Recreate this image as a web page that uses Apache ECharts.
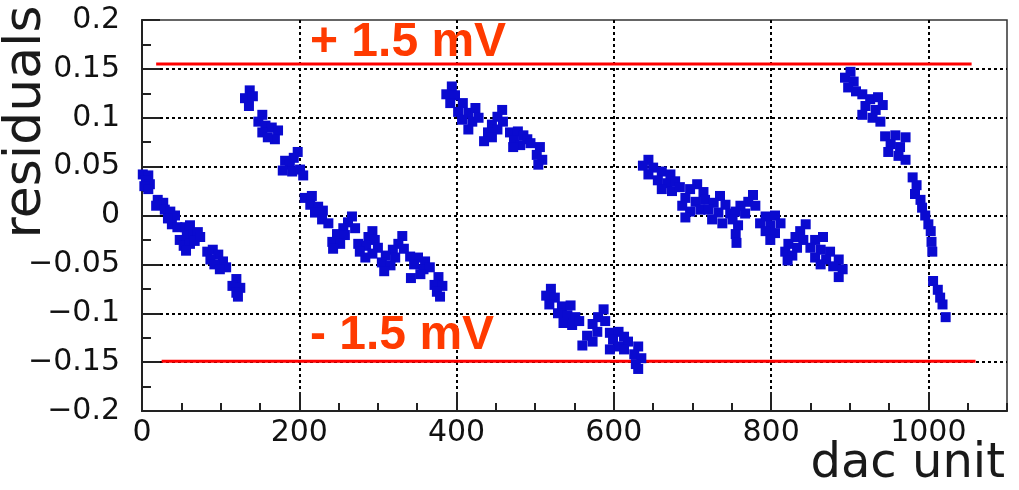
<!DOCTYPE html>
<html><head><meta charset="utf-8">
<script src="https://cdn.jsdelivr.net/npm/echarts@6/dist/echarts.min.js"></script>
<style>html,body{margin:0;padding:0;background:#fff}#c{width:1019px;height:490px}</style>
</head><body><div id="c"></div>
<script>
// tick labels
const xTickValues = [0, 200, 400, 600, 800, 1000];
const xTickLabels = ['0', '200', '400', '600', '800', '1000'];
const yTickValues = [-0.2, -0.15, -0.1, -0.05, 0, 0.05, 0.1, 0.15, 0.2];
const yTickLabels = ['\u22120.2', '\u22120.15', '\u22120.1', '\u22120.05', '0', '0.05', '0.1', '0.15', '0.2'];
const xAxisTitle = 'dac unit';
const yAxisTitle = 'residuals';

// residual points, [dac unit, residual]
const seg1 = [[1,0.042],[8,0.041],[5,0.036],[10,0.032],[3,0.030],[8,0.027],[20,0.016],[27,0.013],[18,0.010],[29,0.006],[36,0.004],[42,0.000],[33,-0.003],[38,-0.009],[45,-0.012],[55,-0.012],[61,-0.010],[48,-0.025],[57,-0.022],[65,-0.019],[71,-0.017],[53,-0.031],[61,-0.029],[67,-0.026],[74,-0.022],[56,-0.036],[83,-0.037],[90,-0.035],[97,-0.040],[87,-0.045],[103,-0.047],[92,-0.050],[107,-0.053],[99,-0.055],[120,-0.065],[115,-0.072],[125,-0.074],[120,-0.079],[122,-0.083]];
const seg2 = [[137,0.128],[131,0.120],[141,0.122],[136,0.112],[153,0.103],[148,0.096],[157,0.092],[165,0.090],[173,0.087],[153,0.085],[169,0.078],[160,0.080],[198,0.065],[193,0.059],[182,0.056],[188,0.052],[179,0.046],[191,0.045],[201,0.047],[205,0.041],[207,0.018],[216,0.020],[214,0.011],[224,0.009],[230,0.005],[220,0.003],[229,-0.004],[237,-0.008],[267,-0.001],[262,-0.007],[256,-0.013],[271,-0.013],[248,-0.019],[258,-0.020],[242,-0.027],[252,-0.029],[243,-0.034],[293,-0.016],[288,-0.022],[296,-0.025],[275,-0.029],[285,-0.031],[300,-0.033],[277,-0.037],[293,-0.039],[284,-0.043],[331,-0.021],[326,-0.029],[319,-0.035],[333,-0.034],[310,-0.041],[322,-0.043],[305,-0.048],[316,-0.051],[308,-0.057],[341,-0.042],[351,-0.043],[360,-0.047],[346,-0.050],[358,-0.055],[366,-0.053],[354,-0.060],[342,-0.064],[377,-0.063],[372,-0.071],[382,-0.072],[375,-0.078],[379,-0.083]];
const seg3 = [[394,0.132],[387,0.124],[398,0.123],[392,0.115],[408,0.115],[402,0.106],[415,0.105],[424,0.110],[407,0.098],[420,0.096],[428,0.100],[415,0.088],[458,0.108],[452,0.101],[459,0.096],[445,0.093],[452,0.088],[440,0.085],[445,0.080],[435,0.076],[468,0.085],[478,0.086],[485,0.082],[473,0.077],[490,0.078],[481,0.072],[494,0.074],[472,0.070],[506,0.070],[502,0.062],[509,0.057],[504,0.052]];
const seg4 = [[520,-0.075],[514,-0.082],[525,-0.084],[518,-0.091],[534,-0.093],[545,-0.092],[529,-0.100],[541,-0.102],[551,-0.104],[536,-0.110],[547,-0.112],[556,-0.108],[587,-0.096],[580,-0.104],[589,-0.108],[573,-0.111],[579,-0.119],[566,-0.123],[573,-0.129],[560,-0.133],[595,-0.120],[606,-0.119],[613,-0.124],[599,-0.127],[618,-0.129],[606,-0.134],[595,-0.137],[613,-0.137],[631,-0.134],[626,-0.142],[635,-0.146],[628,-0.152],[631,-0.157]];
const seg5 = [[644,0.057],[637,0.051],[650,0.049],[644,0.042],[661,0.045],[672,0.042],[656,0.036],[668,0.033],[678,0.035],[661,0.027],[674,0.025],[684,0.029],[706,0.032],[697,0.027],[714,0.024],[691,0.018],[704,0.014],[716,0.016],[687,0.010],[697,0.004],[710,0.006],[691,-0.002],[735,0.020],[727,0.013],[742,0.011],[720,0.006],[733,0.003],[748,0.002],[725,-0.004],[738,-0.008],[777,0.021],[771,0.014],[761,0.010],[780,0.010],[755,0.004],[767,0.002],[751,-0.004],[758,-0.010],[755,-0.019],[756,-0.028],[793,-0.001],[805,0.000],[786,-0.008],[799,-0.010],[812,-0.008],[793,-0.016],[805,-0.018],[799,-0.025],[844,-0.009],[837,-0.016],[831,-0.022],[841,-0.025],[822,-0.029],[833,-0.033],[818,-0.037],[827,-0.041],[821,-0.046],[856,-0.025],[866,-0.022],[850,-0.033],[863,-0.035],[875,-0.037],[856,-0.043],[870,-0.045],[863,-0.050],[886,-0.045],[879,-0.052],[891,-0.055],[886,-0.063]];
const seg6 = [[901,0.147],[894,0.141],[905,0.137],[898,0.131],[908,0.127],[916,0.124],[926,0.119],[936,0.121],[920,0.112],[933,0.108],[942,0.113],[916,0.103],[929,0.100],[939,0.096],[945,0.081],[958,0.082],[971,0.080],[952,0.073],[964,0.070],[949,0.065],[962,0.061],[971,0.057],[980,0.039],[985,0.031],[983,0.022],[990,0.016],[992,0.008],[996,0.000],[1000,-0.009],[1003,-0.016],[1004,-0.027],[1005,-0.037],[1006,-0.067],[1012,-0.076],[1015,-0.084],[1018,-0.091],[1022,-0.104]];

// tolerance lines
const upperLimit = [[18, 0.155], [1055, 0.155]];
const lowerLimit = [[25, -0.149], [1060, -0.149]];
const upperLabel = '+ 1.5 mV';
const lowerLabel = '- 1.5 mV';

const points = [].concat(seg1, seg2, seg3, seg4, seg5, seg6);

function lookup(vals, labels, v) {
  for (let i = 0; i < vals.length; i++) if (Math.abs(vals[i] - v) < 1e-9) return labels[i];
  return '';
}

const chart = echarts.init(document.getElementById('c'), null, {renderer: 'canvas'});
const tickFont = {fontFamily: 'DejaVu Sans', fontSize: 30, color: '#111'};
const dash = {type: [3, 3], color: '#000', width: 2};
chart.setOption({
  animation: false,
  backgroundColor: '#fff',
  grid: {left: 142, right: 12, top: 20, bottom: 79, show: true, borderColor: '#333', borderWidth: 1.5, outerBoundsMode: 'none', containLabel: false},
  xAxis: [
    {type: 'value', min: 0, max: 1100, interval: 200, position: 'bottom',
     axisLine: {show: true, onZero: false, lineStyle: {color: '#222', width: 2}},
     axisTick: {show: true, inside: true, length: 19, lineStyle: {color: '#222', width: 2}},
     axisLabel: Object.assign({margin: 7, showMaxLabel: false, formatter: v => lookup(xTickValues, xTickLabels, v)}, tickFont),
     splitLine: {show: true, showMinLine: false, showMaxLine: false, lineStyle: dash}},
    {type: 'value', min: 0, max: 1100, interval: 50, position: 'bottom',
     axisLine: {show: false, onZero: false}, axisLabel: {show: false}, splitLine: {show: false},
     axisTick: {show: true, inside: true, length: 8, lineStyle: {color: '#222', width: 2}}}
  ],
  yAxis: [
    {type: 'value', min: -0.2, max: 0.2, interval: 0.05, position: 'left',
     axisLine: {show: true, onZero: false, lineStyle: {color: '#222', width: 2}},
     axisTick: {show: true, inside: true, length: 18, lineStyle: {color: '#222', width: 2}},
     axisLabel: Object.assign({margin: 22, formatter: v => lookup(yTickValues, yTickLabels, v)}, tickFont),
     splitLine: {show: true, showMinLine: false, showMaxLine: false, lineStyle: dash}},
    {type: 'value', min: -0.2, max: 0.2, interval: 0.025, position: 'left',
     axisLine: {show: false, onZero: false}, axisLabel: {show: false}, splitLine: {show: false},
     axisTick: {show: true, inside: true, length: 9, lineStyle: {color: '#222', width: 2}}}
  ],
  series: [
    {type: 'line', data: upperLimit, symbol: 'none', z: 3, lineStyle: {color: '#ff0000', width: 3}},
    {type: 'line', data: lowerLimit, symbol: 'none', z: 3, lineStyle: {color: '#ff0000', width: 3}},
    {type: 'scatter', data: points, symbol: 'rect', symbolSize: 10, z: 4, itemStyle: {color: '#0a0ad0', opacity: 1}}
  ],
  graphic: [
    {type: 'text', x: 26, y: 122, rotation: Math.PI / 2, style: {text: yAxisTitle, font: '52px "DejaVu Sans"', fill: '#1a1a1a', align: 'center', verticalAlign: 'middle'}},
    {type: 'text', x: 1005, y: 465, style: {text: xAxisTitle, font: '48px "DejaVu Sans"', fill: '#1a1a1a', align: 'right', verticalAlign: 'middle'}},
    {type: 'text', x: 310, y: 43, z: 10, style: {text: upperLabel, font: 'bold 48px "Liberation Sans"', fill: '#ff3a00', align: 'left', verticalAlign: 'middle'}},
    {type: 'text', x: 310, y: 336, z: 10, style: {text: lowerLabel, font: 'bold 48px "Liberation Sans"', fill: '#ff3a00', align: 'left', verticalAlign: 'middle'}}
  ]
});
</script></body></html>
